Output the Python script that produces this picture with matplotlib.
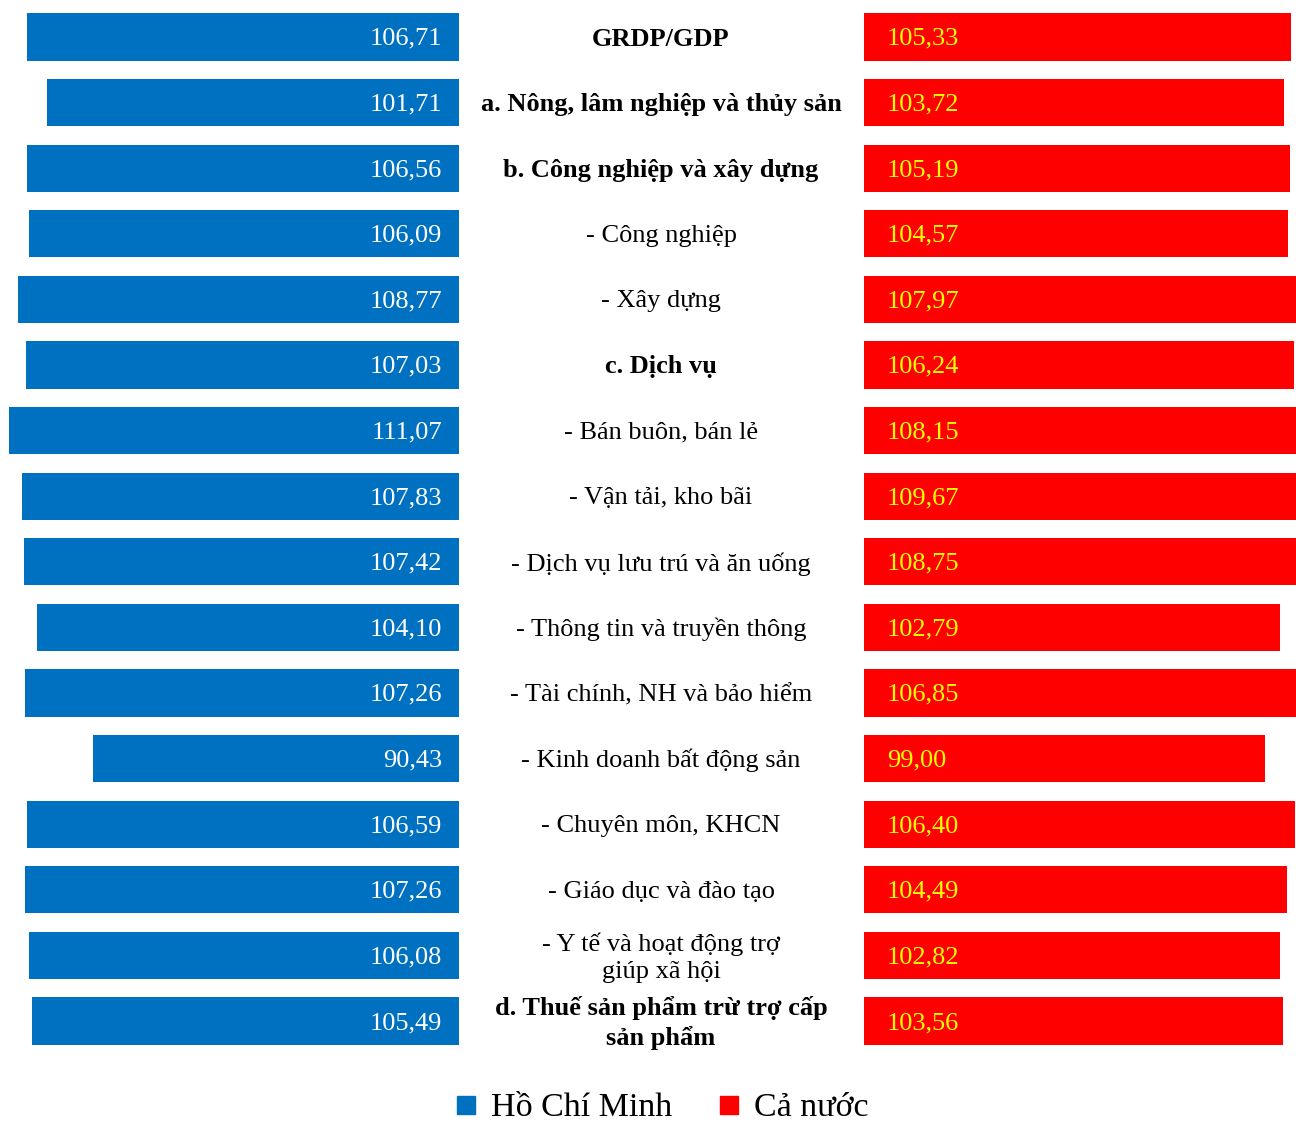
import matplotlib.pyplot as plt
from matplotlib.lines import Line2D

# Chỉ số phát triển GRDP/GDP theo khu vực kinh tế (%)
categories = [
    "GRDP/GDP",
    "a. Nông, lâm nghiệp và thủy sản",
    "b. Công nghiệp và xây dựng",
    "- Công nghiệp",
    "- Xây dựng",
    "c. Dịch vụ",
    "- Bán buôn, bán lẻ",
    "- Vận tải, kho bãi",
    "- Dịch vụ lưu trú và ăn uống",
    "- Thông tin và truyền thông",
    "- Tài chính, NH và bảo hiểm",
    "- Kinh doanh bất động sản",
    "- Chuyên môn, KHCN",
    "- Giáo dục và đào tạo",
    "- Y tế và hoạt động trợ\ngiúp xã hội",
    "d. Thuế sản phẩm trừ trợ cấp\nsản phẩm",
]
bold_rows = [0, 1, 2, 5, 15]
hcm = [106.71, 101.71, 106.56, 106.09, 108.77, 107.03, 111.07, 107.83,
       107.42, 104.10, 107.26, 90.43, 106.59, 107.26, 106.08, 105.49]
ca_nuoc = [105.33, 103.72, 105.19, 104.57, 107.97, 106.24, 108.15, 109.67,
           108.75, 102.79, 106.85, 99.00, 106.40, 104.49, 102.82, 103.56]

plt.rcParams['font.family'] = ['Liberation Serif', 'DejaVu Serif']

BLUE = '#0070C0'
RED = '#FF0000'
FS = 19

fig = plt.figure(figsize=(12.96, 11.25), dpi=100)
bottom, top = 0.0633, 0.9963
ax_l = fig.add_axes([0.0, bottom, 459 / 1296, top - bottom])
ax_r = fig.add_axes([864 / 1296, bottom, 432 / 1296, top - bottom])

y = list(range(len(categories)))

ax_l.barh(y, hcm, height=0.72, color=BLUE)
ax_l.set_xlim(459 / 4.05, 0)
ax_r.barh(y, ca_nuoc, height=0.72, color=RED)
ax_r.set_xlim(0, 432 / 4.05)

for ax in (ax_l, ax_r):
    ax.set_ylim(len(categories) - 0.5, -0.5)
    ax.axis('off')

for i, v in enumerate(hcm):
    ax_l.text(4.2, i + 0.03, f"{v:.2f}".replace('.', ','), ha='right',
              va='center', color='white', fontsize=FS)
for i, v in enumerate(ca_nuoc):
    ax_r.text(5.6, i + 0.03, f"{v:.2f}".replace('.', ','), ha='left',
              va='center', color='#FFFF00', fontsize=FS)

# nhãn ở giữa, căn theo hàng của trục phải
for i, name in enumerate(categories):
    yy = 1 - (39 + 65.6 * i) / 1125
    fig.text(661 / 1296, yy, name, ha='center', va='center', fontsize=FS,
             fontweight='bold' if i in bold_rows else 'normal',
             linespacing=1.3)

handles = [
    Line2D([], [], marker='s', linestyle='none', markersize=13, color=BLUE),
    Line2D([], [], marker='s', linestyle='none', markersize=13, color=RED),
]
fig.legend(handles, ["Hồ Chí Minh", "Cả nước"], loc='center',
           bbox_to_anchor=(662 / 1296, 1 - 1108 / 1125), ncol=2, frameon=False,
           fontsize=24.5, handlelength=0.6, handletextpad=0.45,
           columnspacing=1.35, borderpad=0)

fig.savefig('out.png', dpi=100)
